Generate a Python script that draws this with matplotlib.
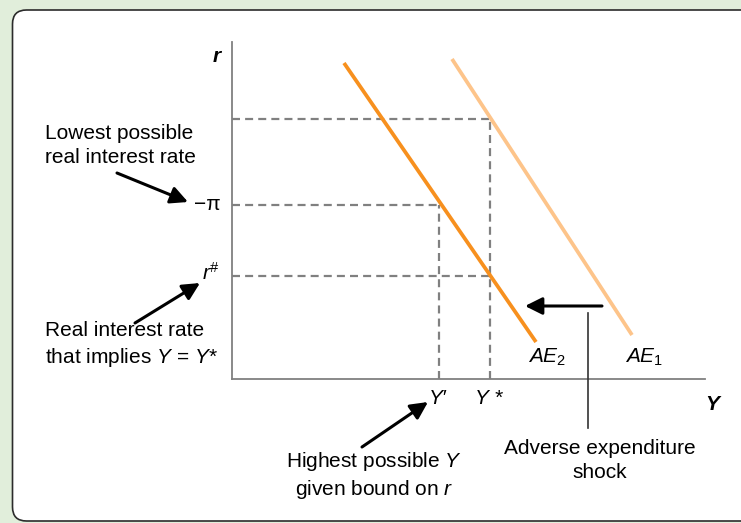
import numpy as np
import matplotlib.pyplot as plt
from matplotlib.patches import FancyBboxPatch

plt.rcParams['font.family'] = ['Liberation Sans', 'DejaVu Sans']
plt.rcParams['mathtext.fontset'] = 'custom'
plt.rcParams['mathtext.rm'] = 'Liberation Sans'
plt.rcParams['mathtext.it'] = 'Liberation Sans:italic'
plt.rcParams['mathtext.bf'] = 'Liberation Sans:bold'

# curves (output Y, real rate r), diagram units
ae1_Y = [22.0, 40.0]
ae1_r = [32.0, 4.4]
ae2_Y = [11.2, 30.4]
ae2_r = [31.6, 3.7]

# marked levels
r_levels = [26.0, 17.4, 10.3]      # top guide, -pi, r#
r_level_ends = [25.8, 20.7, 25.8]  # where each guide hits a curve
Y_levels = [20.7, 25.8]            # Y', Y*
Y_level_tops = [17.4, 26.0]
Y_labels = ["Y\u2032", "Y *"]

axis_r_max = 33.7
axis_Y_max = 47.3

# shock arrow
shock_from = 37.0
shock_to = 29.3
shock_r = 7.3

fs = 15
ls_txt = 1.32
guide = "#808080"
dash = (0, (3.6, 2.3))

fig = plt.figure(figsize=(7.41, 5.23), dpi=100)
fig.patch.set_facecolor("#e1eedb")

bg = fig.add_axes([0, 0, 1, 1])
bg.set_xlim(0, 741)
bg.set_ylim(523, 0)
bg.axis("off")
bg.add_patch(FancyBboxPatch((12.5, 10), 760, 511,
                            boxstyle="round,pad=0,rounding_size=14",
                            fc="white", ec="#2b2b2b", lw=1.2))

ax = fig.add_axes([0, 0, 1, 1])
ax.set_xlim(-23.2, 50.9)
ax.set_ylim(-14.4, 37.9)
ax.axis("off")
ax.patch.set_alpha(0)

# axes
ax.plot([0, 0], [0, axis_r_max], color=guide, lw=1.3)
ax.plot([0, axis_Y_max], [0, 0], color=guide, lw=1.3)

# dashed guides
for r, e in zip(r_levels, r_level_ends):
    ax.plot([0, e], [r, r], color=guide, lw=1.6, ls=dash)
for Y, t in zip(Y_levels, Y_level_tops):
    ax.plot([Y, Y], [0, t], color=guide, lw=1.6, ls=dash)

# AE curves
ax.plot(ae1_Y, ae1_r, color="#fdc48a", lw=2.7, solid_capstyle="butt")
ax.plot(ae2_Y, ae2_r, color="#f7901e", lw=2.7, solid_capstyle="butt")
ax.text(31.5, 2.2, r"$AE_2$", fontsize=fs, ha="center", va="center")
ax.text(41.2, 2.2, r"$AE_1$", fontsize=fs, ha="center", va="center")

# axis labels
ax.text(-1.1, 32.2, "r", fontsize=fs, fontweight="bold", style="italic",
        ha="right", va="center")
ax.text(47.3, -2.5, "Y", fontsize=fs, fontweight="bold", style="italic",
        ha="left", va="center")

# level labels
ax.text(-1.1, r_levels[1], "\u2212\u03c0", fontsize=fs, ha="right", va="center")
ax.text(-1.2, r_levels[2] + 0.3, r"$r^{\#}$", fontsize=fs, ha="right", va="center")
for Y, lab in zip(Y_levels, Y_labels):
    ax.text(Y - 0.1, -2.0, lab, fontsize=fs, style="italic", ha="center", va="center")

arrow = dict(arrowstyle="-|>", color="black", lw=2.2, mutation_scale=26,
             shrinkA=0, shrinkB=0)

# annotations
ax.text(-18.7, 23.35, "Lowest possible\nreal interest rate", fontsize=fs,
        ha="left", va="center", linespacing=ls_txt)
ax.annotate("", xy=(-4.4, r_levels[1] + 0.3), xytext=(-11.5, 20.6), arrowprops=arrow)

ax.text(-18.7, 3.4, "Real interest rate\nthat implies $Y$ = $Y$*", fontsize=fs,
        ha="left", va="center", linespacing=ls_txt)
ax.annotate("", xy=(-3.2, r_levels[2] - 0.7), xytext=(-9.7, 5.6), arrowprops=arrow)

ax.text(14.2, -9.65, "Highest possible $Y$\ngiven bound on $r$", fontsize=fs,
        ha="center", va="center", linespacing=ls_txt)
ax.annotate("", xy=(Y_levels[0] - 1.1, -2.3), xytext=(13.0, -6.8), arrowprops=arrow)

ax.annotate("", xy=(shock_to, shock_r), xytext=(shock_from, shock_r), arrowprops=arrow)
ax.plot([35.6, 35.6], [6.6, -4.9], color="#333333", lw=1.2)
ax.text(36.8, -8.15, "Adverse expenditure\nshock", fontsize=fs,
        ha="center", va="center", linespacing=ls_txt)

fig.savefig("out.png", dpi=100, facecolor=fig.get_facecolor())
